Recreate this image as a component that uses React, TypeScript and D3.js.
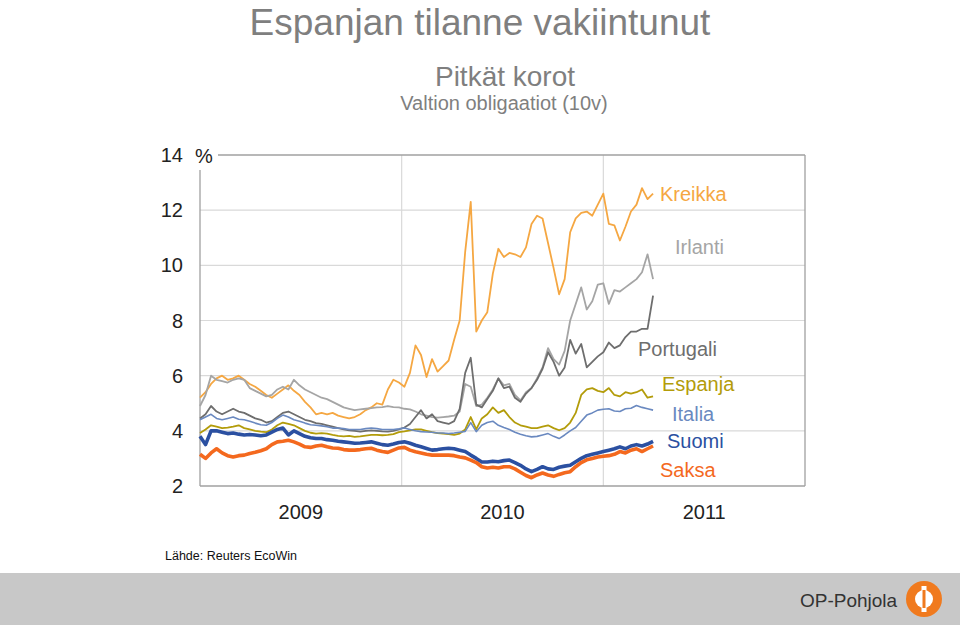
import React from "react";
import * as d3 from "d3";

// 10v valtionlainojen korot, n. 10 päivän välein 1.1.2009 alkaen
const startDate = new Date(2009, 0, 1);
const stepDays = 10;

const kreikka = [
  5.2, 5.4, 5.7, 5.9, 6.0, 5.85, 5.9, 6.0, 5.85, 5.7, 5.6, 5.45, 5.3, 5.2, 5.35, 5.5, 5.65, 5.45, 5.3, 5.05,
  4.85, 4.6, 4.65, 4.6, 4.65, 4.55, 4.5, 4.45, 4.5, 4.6, 4.75, 4.85, 5.0, 4.95, 5.5, 5.85, 5.75, 5.6, 6.1, 7.1,
  6.75, 5.95, 6.6, 6.15, 6.35, 6.55, 7.3, 8.0, 10.5, 12.3, 7.6, 8.0, 8.3, 9.7, 10.6, 10.3, 10.45, 10.4, 10.3, 10.65,
  11.5, 11.8, 11.7, 10.8, 9.9, 8.95, 9.5, 11.2, 11.7, 11.9, 11.95, 11.8, 12.2, 12.6, 11.5, 11.45, 10.9, 11.4, 11.95, 12.2,
  12.8, 12.4, 12.6,
];
const irlanti = [
  4.9, 5.3, 6.0, 5.85, 5.8, 5.75, 5.85, 5.9, 5.85, 5.55, 5.45, 5.35, 5.25, 5.3, 5.5, 5.6, 5.5, 5.85, 5.65, 5.5,
  5.4, 5.3, 5.2, 5.15, 5.05, 4.95, 4.85, 4.8, 4.75, 4.78, 4.8, 4.82, 4.85, 4.86, 4.9, 4.86, 4.85, 4.8, 4.78, 4.7,
  4.6, 4.55, 4.5, 4.48, 4.5, 4.52, 4.55, 4.7, 5.7, 5.6, 4.9, 4.95, 5.2, 5.5, 5.9, 5.65, 5.7, 5.3, 5.1, 5.4,
  5.55, 5.9, 6.3, 7.0, 6.6, 6.4, 6.9, 8.0, 8.6, 9.2, 8.4, 8.7, 9.3, 9.35, 8.6, 9.1, 9.05, 9.2, 9.35, 9.5,
  9.75, 10.4, 9.5,
];
const portugali = [
  4.45, 4.6, 4.9, 4.7, 4.6, 4.7, 4.8, 4.7, 4.65, 4.55, 4.45, 4.4, 4.3, 4.35, 4.5, 4.65, 4.7, 4.6, 4.5, 4.4,
  4.35, 4.28, 4.25, 4.2, 4.15, 4.1, 4.05, 4.02, 4.0, 3.97, 4.0, 4.02, 4.0, 3.98, 3.97, 4.0, 4.05, 4.12, 4.25, 4.5,
  4.75, 4.45, 4.6, 4.35, 4.3, 4.25, 4.35, 4.8, 6.1, 6.65, 4.95, 4.85, 5.15, 5.45, 5.9, 5.55, 5.6, 5.2, 5.05, 5.35,
  5.55, 5.85, 6.25, 6.85, 6.5, 6.0, 6.3, 7.3, 6.8, 7.15, 6.3, 6.5, 6.7, 6.85, 7.2, 7.0, 7.1, 7.4, 7.6, 7.6,
  7.7, 7.7, 8.9,
];
const espanja = [
  3.92, 4.05, 4.2, 4.15, 4.1, 4.12, 4.15, 4.2, 4.1, 4.05, 4.0, 3.97, 3.95, 4.05, 4.2, 4.3, 4.25, 4.2, 4.1, 4.0,
  3.93, 3.9, 3.92, 3.9, 3.85, 3.82, 3.8, 3.82, 3.78, 3.8, 3.83, 3.85, 3.85, 3.84, 3.85, 3.88, 3.95, 3.98, 4.02, 4.05,
  4.05, 4.0, 3.95, 3.92, 3.9, 3.88, 3.85, 3.9, 4.05, 4.5, 4.05, 4.45, 4.6, 4.85, 4.65, 4.75, 4.5, 4.3, 4.2, 4.15,
  4.1, 4.1, 4.15, 4.2, 4.1, 4.02, 4.1, 4.3, 4.65, 5.3, 5.5, 5.55, 5.45, 5.4, 5.55, 5.3, 5.25, 5.4, 5.35, 5.4,
  5.5, 5.2, 5.25,
];
const italia = [
  4.4, 4.5, 4.6, 4.45, 4.4, 4.45, 4.5, 4.42, 4.4, 4.35, 4.28, 4.22, 4.2, 4.3, 4.45, 4.57, 4.5, 4.4, 4.35, 4.28,
  4.22, 4.2, 4.18, 4.15, 4.1, 4.1, 4.08, 4.05, 4.05, 4.05, 4.08, 4.1, 4.08, 4.05, 4.05, 4.05, 4.07, 4.1, 4.05, 4.0,
  3.97, 3.96, 3.95, 3.92, 3.92, 3.9, 3.92, 3.95, 3.98, 4.3, 3.97, 4.2, 4.3, 4.35, 4.2, 4.12, 4.05, 3.95, 3.88, 3.82,
  3.78, 3.8, 3.85, 3.9, 3.8, 3.72, 3.85, 4.0, 4.12, 4.35, 4.57, 4.65, 4.75, 4.78, 4.8, 4.72, 4.7, 4.8, 4.82, 4.92,
  4.85, 4.8, 4.75,
];
const suomi = [
  3.8, 3.5, 4.0, 4.0, 3.95, 3.9, 3.92, 3.88, 3.85, 3.87, 3.85, 3.82, 3.85, 3.95, 4.05, 4.1, 3.85, 4.0, 3.9, 3.8,
  3.75, 3.72, 3.72, 3.68, 3.66, 3.62, 3.6, 3.58, 3.55, 3.56, 3.58, 3.6, 3.55, 3.5, 3.48, 3.52, 3.58, 3.6, 3.55, 3.48,
  3.42, 3.36, 3.3, 3.32, 3.35, 3.37, 3.35, 3.3, 3.25, 3.12, 3.0, 2.87, 2.87, 2.9, 2.88, 2.92, 2.94, 2.85, 2.75, 2.62,
  2.52, 2.6, 2.7, 2.62, 2.6, 2.68, 2.72, 2.75, 2.88, 3.0, 3.1, 3.15, 3.2, 3.25, 3.3, 3.35, 3.42, 3.35, 3.45, 3.5,
  3.45, 3.52, 3.62,
];
const saksa = [
  3.15, 3.0, 3.2, 3.35, 3.2, 3.1, 3.05, 3.1, 3.12, 3.18, 3.22, 3.28, 3.35, 3.5, 3.6, 3.62, 3.66, 3.6, 3.52, 3.42,
  3.4, 3.45, 3.48, 3.42, 3.38, 3.37, 3.32, 3.3, 3.3, 3.32, 3.35, 3.37, 3.3, 3.25, 3.22, 3.3, 3.38, 3.4, 3.3, 3.24,
  3.2, 3.15, 3.12, 3.12, 3.12, 3.12, 3.1, 3.05, 3.02, 2.94, 2.85, 2.7, 2.65, 2.68, 2.65, 2.7, 2.7, 2.62, 2.5, 2.38,
  2.3, 2.4, 2.47, 2.4, 2.35, 2.42, 2.48, 2.52, 2.7, 2.85, 2.95, 3.0, 3.05, 3.08, 3.1, 3.15, 3.25, 3.2, 3.3, 3.35,
  3.25, 3.35, 3.45,
];

const yTicks = [2, 4, 6, 8, 10, 12, 14];
const yearLabels = ["2009", "2010", "2011"];

const series = [
  { name: "Kreikka", values: kreikka, color: "#F5A742", width: 1.8, labelX: 660, labelY: 201 },
  { name: "Irlanti", values: irlanti, color: "#A5A5A5", width: 1.8, labelX: 675, labelY: 254 },
  { name: "Portugali", values: portugali, color: "#6E6E6E", width: 1.8, labelX: 638, labelY: 356 },
  { name: "Espanja", values: espanja, color: "#B39C0A", width: 1.8, labelX: 662, labelY: 391 },
  { name: "Italia", values: italia, color: "#6A89C0", width: 1.6, labelX: 672, labelY: 421 },
  { name: "Suomi", values: suomi, color: "#2B50A1", width: 3.6, labelX: 667, labelY: 448 },
  { name: "Saksa", values: saksa, color: "#F4691E", width: 3.6, labelX: 660, labelY: 477 },
];

const font = "'Liberation Sans', Arial, sans-serif";

export default function App() {
  const left = 200;
  const right = 805;
  const top = 155;
  const bottom = 486;

  const dates = kreikka.map((_, i) => d3.timeDay.offset(startDate, i * stepDays));

  const x = d3
    .scaleTime()
    .domain([new Date(2009, 0, 1), new Date(2012, 0, 1)])
    .range([left, right]);
  const y = d3.scaleLinear().domain([2, 14]).range([bottom, top]);

  const line = d3
    .line<number>()
    .x((_, i) => x(dates[i]))
    .y((d) => y(d));

  const yearStarts = [new Date(2010, 0, 1), new Date(2011, 0, 1)];

  return (
    <div style={{ position: "absolute", left: 0, top: 0 }}>
      <svg width={960} height={627} style={{ display: "block", fontFamily: font }}>
        <rect width={960} height={627} fill="#fff" />

        {/* otsikot */}
        <text x={480} y={35} textAnchor="middle" fontSize={37} fill="#7F7F7F">
          Espanjan tilanne vakiintunut
        </text>
        <text x={505} y={86} textAnchor="middle" fontSize={28} fill="#7F7F7F">
          Pitkät korot
        </text>
        <text x={504} y={110} textAnchor="middle" fontSize={20} fill="#7F7F7F">
          Valtion obligaatiot (10v)
        </text>

        {/* ruudukko */}
        {yTicks
          .filter((t) => t > 2 && t < 14)
          .map((t) => (
            <line key={t} x1={left} x2={right} y1={y(t)} y2={y(t)} stroke="#D9D9D9" strokeWidth={1.2} />
          ))}
        {yearStarts.map((d, i) => (
          <line key={i} x1={x(d)} x2={x(d)} y1={top} y2={bottom} stroke="#D9D9D9" strokeWidth={1.2} />
        ))}

        {/* kehys */}
        <line x1={218} x2={right} y1={top} y2={top} stroke="#A0A0A0" strokeWidth={1.3} />
        <line x1={right} x2={right} y1={top} y2={bottom} stroke="#A0A0A0" strokeWidth={1.3} />
        <line x1={left} x2={right} y1={bottom} y2={bottom} stroke="#A0A0A0" strokeWidth={1.3} />
        <line x1={left} x2={left} y1={170} y2={bottom} stroke="#A0A0A0" strokeWidth={1.3} />

        {/* y-akseli */}
        {yTicks.map((t) => (
          <text key={t} x={183} y={y(t) + 7} textAnchor="end" fontSize={20} fill="#222">
            {t}
          </text>
        ))}
        <text x={195} y={163} fontSize={20} fill="#222">
          %
        </text>

        {/* x-akseli */}
        {yearLabels.map((lab) => {
          const yr = +lab;
          const mid = (x(new Date(yr, 0, 1)) + x(new Date(yr + 1, 0, 1))) / 2;
          return (
            <text key={lab} x={mid} y={519} textAnchor="middle" fontSize={20} fill="#222">
              {lab}
            </text>
          );
        })}

        {/* sarjat */}
        {series.map((s) => (
          <path
            key={s.name}
            d={line(s.values) || ""}
            fill="none"
            stroke={s.color}
            strokeWidth={s.width}
            strokeLinejoin="round"
          />
        ))}
        {series.map((s) => (
          <text key={s.name} x={s.labelX} y={s.labelY} fontSize={20} fill={s.color}>
            {s.name}
          </text>
        ))}

        {/* lähde */}
        <text x={165} y={560} fontSize={12.5} fill="#111">
          Lähde: Reuters EcoWin
        </text>

        {/* alapalkki */}
        <rect x={0} y={573} width={960} height={52} fill="#C8C8C8" />
        <text x={800} y={607} fontSize={19} fill="#333">
          OP-Pohjola
        </text>
        <g transform="translate(924,599)">
          <circle r={18} fill="#F07A1E" />
          <rect x={-2.5} y={-13} width={5} height={26} fill="#fff" />
          <circle r={9} fill="#fff" />
          <rect x={-1.5} y={-9} width={3} height={18} fill="#F07A1E" />
        </g>
      </svg>
    </div>
  );
}
